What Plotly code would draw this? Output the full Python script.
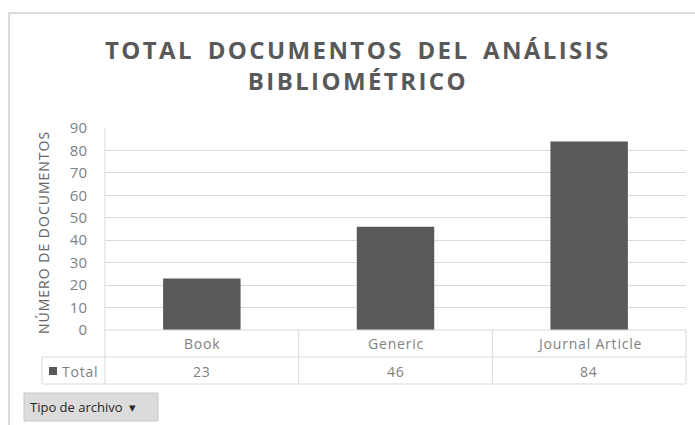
import plotly.graph_objects as go

categories = ["Book", "Generic", "Journal Article"]
totals = [23, 46, 84]
series_name = "Total"
y_ticks = [0, 10, 20, 30, 40, 50, 60, 70, 80, 90]
title_lines = ["TOTAL DOCUMENTOS DEL ANÁLISIS", "BIBLIOMÉTRICO"]
y_title = "NÚMERO DE DOCUMENTOS"
filter_label = "Tipo de archivo"

W, H = 695, 425
def px(x): return x / W
def py(y): return 1 - y / H

FONT = "Open Sans, sans-serif"
GRID = "#d9d9d9"
BAR = "#595959"
TXT = "#7f7f7f"

x_left, x_right = 105, 686
y_top, y_zero = 128, 330
row1_bot, row2_bot = 357, 384
lab_left = 42

fig = go.Figure()
fig.add_trace(go.Bar(
    x=list(range(len(categories))), y=totals, name=series_name,
    marker=dict(color=BAR, line=dict(width=0)), width=0.4,
    hoverinfo="skip"))

shapes = []
shapes.append(dict(type="rect", xref="paper", yref="paper", x0=px(9), x1=px(705), y0=py(440), y1=py(13),
                   line=dict(color="#d0d0d0", width=1.5), fillcolor="rgba(0,0,0,0)", layer="below"))
shapes.append(dict(type="line", xref="paper", yref="paper", x0=px(x_left), x1=px(x_left), y0=py(y_top), y1=py(row2_bot),
                   line=dict(color=GRID, width=1)))
for yy, xl in [(y_zero, x_left), (row1_bot, lab_left), (row2_bot, lab_left)]:
    shapes.append(dict(type="line", xref="paper", yref="paper", x0=px(xl), x1=px(x_right), y0=py(yy), y1=py(yy),
                       line=dict(color=GRID, width=1)))
n = len(categories)
colw = (x_right - x_left) / n
for i in range(1, n + 1):
    xx = x_left + i * colw
    shapes.append(dict(type="line", xref="paper", yref="paper", x0=px(xx), x1=px(xx), y0=py(y_zero), y1=py(row2_bot),
                       line=dict(color=GRID, width=1)))
shapes.append(dict(type="line", xref="paper", yref="paper", x0=px(lab_left), x1=px(lab_left), y0=py(row1_bot), y1=py(row2_bot),
                   line=dict(color=GRID, width=1)))
shapes.append(dict(type="rect", xref="paper", yref="paper", x0=px(49), x1=px(57), y0=py(375), y1=py(367),
                   fillcolor=BAR, line=dict(width=0)))
shapes.append(dict(type="rect", xref="paper", yref="paper", x0=px(24), x1=px(158), y0=py(421), y1=py(393),
                   fillcolor="#dcdcdc", line=dict(color="#c8c8c8", width=1)))

annotations = []
tstyle = "letter-spacing:2.4px;word-spacing:5px"
annotations.append(dict(text='<span style="%s">%s</span><br><span style="%s">%s</span>' % (tstyle, title_lines[0], tstyle, title_lines[1]),
                        xref="paper", yref="paper",
                        x=px(358), y=py(65), xanchor="center", yanchor="middle", showarrow=False,
                        font=dict(family=FONT, size=24, color="#595959", weight=700)))
annotations.append(dict(text='<span style="letter-spacing:1px">%s</span>' % y_title, xref="paper", yref="paper",
                        x=px(43), y=py(233), textangle=-90,
                        xanchor="center", yanchor="middle", showarrow=False,
                        font=dict(family=FONT, size=14, color="#666666")))
cstyle = "letter-spacing:0.8px"
for i, (c, v) in enumerate(zip(categories, totals)):
    cx = x_left + (i + 0.5) * colw
    annotations.append(dict(text='<span style="%s">%s</span>' % (cstyle, c), xref="paper", yref="paper",
                            x=px(cx), y=py(343), xanchor="center", yanchor="middle",
                            showarrow=False, font=dict(family=FONT, size=14, color=TXT)))
    annotations.append(dict(text='<span style="%s">%s</span>' % (cstyle, v), xref="paper", yref="paper",
                            x=px(cx), y=py(371), xanchor="center", yanchor="middle",
                            showarrow=False, font=dict(family=FONT, size=14, color=TXT)))
annotations.append(dict(text='<span style="%s">%s</span>' % (cstyle, series_name), xref="paper", yref="paper",
                        x=px(60), y=py(371), xanchor="left", yanchor="middle",
                        showarrow=False, font=dict(family=FONT, size=14, color=TXT)))
annotations.append(dict(text=filter_label + "  ▾", xref="paper", yref="paper", x=px(28), y=py(407), xanchor="left", yanchor="middle",
                        showarrow=False, font=dict(family=FONT, size=13, color="#262626")))

fig.update_layout(
    width=W, height=H, margin=dict(l=0, r=0, t=0, b=0, pad=0, autoexpand=False),
    paper_bgcolor="white", plot_bgcolor="white",
    showlegend=False,
    xaxis=dict(domain=[px(x_left), px(x_right)], range=[-0.5, n - 0.5], showticklabels=False,
               showgrid=False, zeroline=False, showline=False, ticks="", automargin=False),
    yaxis=dict(domain=[py(y_zero), py(y_top)], range=[0, 90], tickvals=y_ticks,
               showgrid=True, gridcolor=GRID, gridwidth=1, zeroline=False, showline=False,
               ticks="", ticklabelstandoff=17, automargin=False,
               tickfont=dict(family=FONT, size=15, color=TXT)),
    shapes=shapes, annotations=annotations,
)

fig.write_html("out.html", config={"displayModeBar": False},
               post_script="document.body.style.margin='0px';document.body.style.padding='0px';")
